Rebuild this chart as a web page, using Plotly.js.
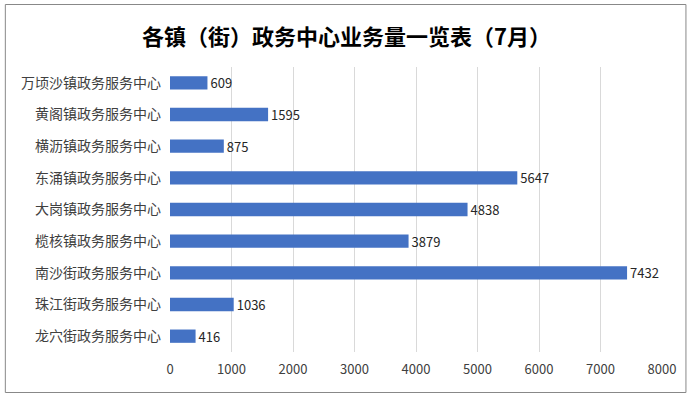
<!DOCTYPE html>
<html><head><meta charset="utf-8">
<script src="https://cdn.plot.ly/plotly-3.0.1.min.js"></script>
<style>html,body{margin:0;padding:0;background:#fff;}#chart{width:693px;height:396px;}</style>
</head><body><div id="chart"></div>
<script>
const categories = ["万顷沙镇政务服务中心","黄阁镇政务服务中心","横沥镇政务服务中心","东涌镇政务服务中心","大岗镇政务服务中心","榄核镇政务服务中心","南沙街政务服务中心","珠江街政务服务中心","龙穴街政务服务中心"];
const values = [609,1595,875,5647,4838,3879,7432,1036,416];
const xTicks = [0,1000,2000,3000,4000,5000,6000,7000,8000];
const titleText = "各镇（街）政务中心业务量一览表（7月）";

const W=693,H=396,L=169.5,R=30.5,T=67,B=44;
const pw=W-L-R, ph=H-T-B;
const fx=px=>(px-L)/pw, fy=py=>1-(py-T)/ph;

const font = "'Microsoft YaHei','Noto Sans CJK SC','Noto Sans',sans-serif";
Plotly.newPlot('chart',[{
  type:'bar', orientation:'h',
  y:categories, x:values,
  marker:{color:'#4472C4'},
  text:values.map(String), textposition:'outside', cliponaxis:false, constraintext:'none',
  textfont:{family:font,size:13,color:'#262626'},
  hoverinfo:'none'
}],{
  width:W,height:H,
  margin:{l:L,r:R,t:T,b:B,pad:0},
  paper_bgcolor:'#fff',plot_bgcolor:'#fff',
  bargap:0.58,
  title:{text:'<b>'+titleText+'</b>',x:0.5,xanchor:'center',y:1-37/H,yanchor:'middle',
    font:{family:font,size:22,color:'#000'}},
  xaxis:{range:[0,8000],tickvals:xTicks,ticktext:xTicks.map(String),showgrid:true,gridcolor:'#d9d9d9',gridwidth:1,
    zeroline:false,showline:false,ticks:'',tickfont:{family:font,size:13,color:'#404040'},fixedrange:true,ticklabelstandoff:8},
  yaxis:{type:'category',autorange:'reversed',showgrid:false,zeroline:false,showline:false,ticks:'',
    tickfont:{family:font,size:14,color:'#404040'},ticklabelstandoff:8,fixedrange:true},
  showlegend:false,
  shapes:[{type:'rect',xref:'paper',yref:'paper',x0:fx(4.5),x1:fx(686.5),y0:fy(392.5),y1:fy(4.5),
    line:{color:'#888',width:1},fillcolor:'rgba(0,0,0,0)',layer:'below'}]
},{displayModeBar:false,staticPlot:true});
</script></body></html>
